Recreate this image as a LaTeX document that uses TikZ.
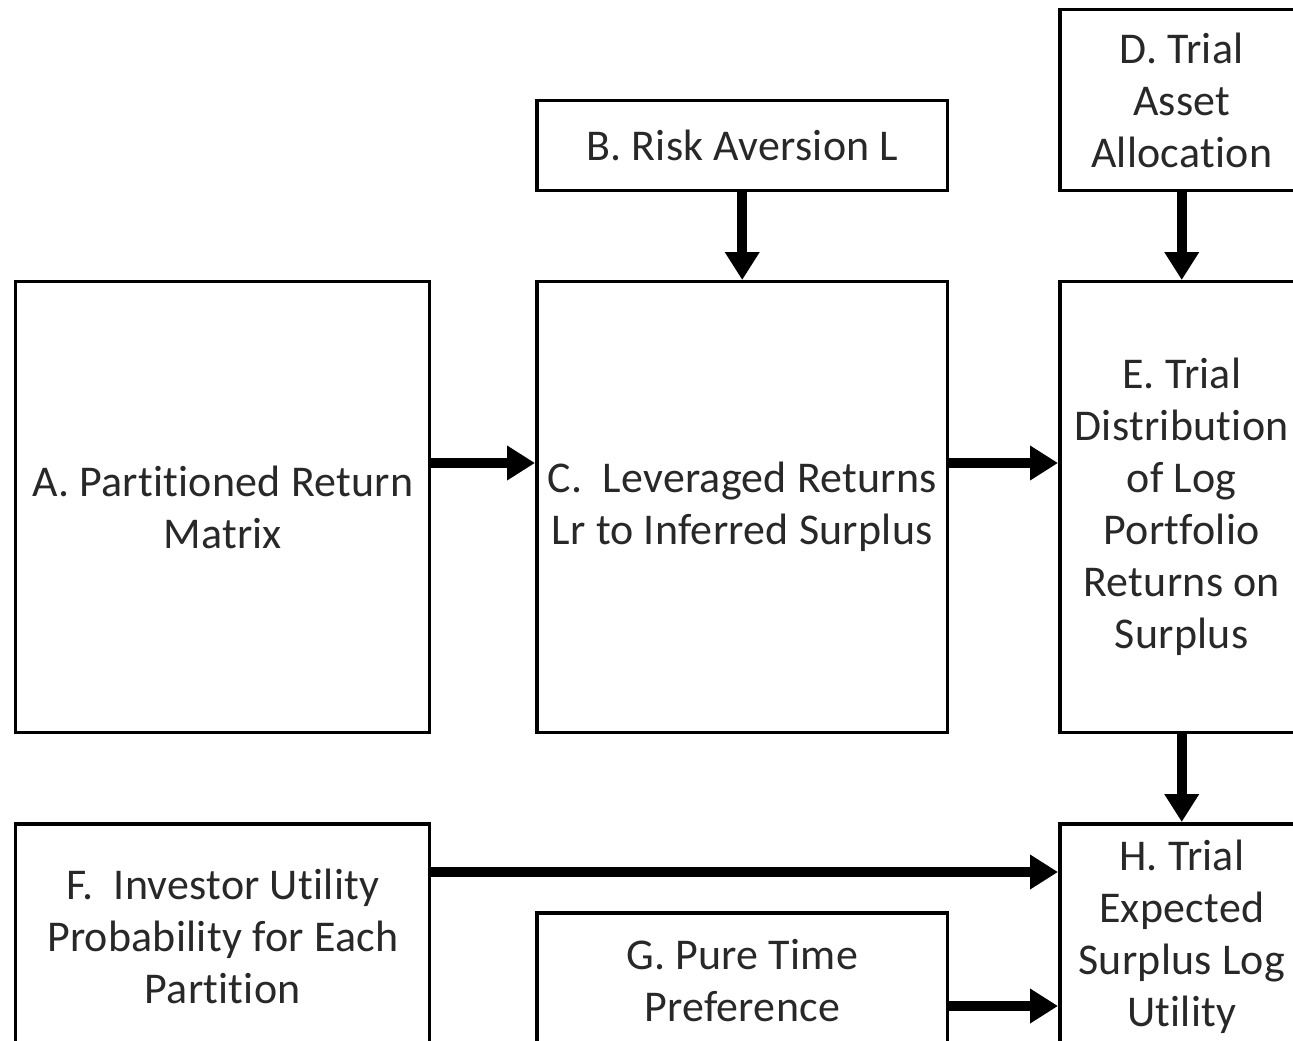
\documentclass[tikz,border=0pt]{standalone}
\usepackage{fontspec}
\setmainfont{Carlito}[Ligatures=NoCommon,LetterSpace=0.6]
\usetikzlibrary{arrows.meta}
\definecolor{txt}{RGB}{40,40,40}
\begin{document}
\begin{tikzpicture}[x=0.02cm,y=-0.02cm,
  box/.style={draw=black,line width=0.07cm,anchor=north west,inner sep=0pt,
    align=center,text=txt,font=\fontsize{25}{29.6}\selectfont},
  arr/.style={line width=0.2cm,-{Triangle[length=0.56cm,width=0.66cm]}}]
\fill[white] (0,0) rectangle (1293,1040);
\useasboundingbox (0,0) rectangle (1293,1040);
\clip (0,0) rectangle (1293,1040);
\node[box,minimum width=8.28cm,minimum height=9.02cm] (A) at (14,280) {A. Partitioned Return\\Matrix};
\node[box,minimum width=8.22cm,minimum height=1.8cm] (B) at (535,99) {B. Risk Aversion L};
\node[box,minimum width=8.22cm,minimum height=9.02cm] (C) at (535,280) {C.\ \ Leveraged Returns\\Lr to Inferred Surplus};
\node[box,minimum width=4.88cm,minimum height=3.62cm] (D) at (1058,8) {D. Trial\\Asset\\Allocation};
\node[box,minimum width=4.88cm,minimum height=9.02cm] (E) at (1058,280) {E. Trial\\Distribution\\of Log\\Portfolio\\Returns on\\Surplus};
\node[box,minimum width=8.28cm,minimum height=4.52cm] (F) at (14,822) {F.\ \ Investor Utility\\Probability for Each\\Partition};
\node[box,minimum width=8.22cm,minimum height=2.72cm] (G) at (535,911) {G. Pure Time\\Preference};
\node[box,minimum width=4.88cm,minimum height=4.52cm] (H) at (1058,822) {H. Trial\\Expected\\Surplus Log\\Utility};
\coordinate (r1) at (0,463);
\coordinate (r2) at (0,872);
\coordinate (r3) at (0,1006);
\draw[arr] (A.east |- r1) -- (C.west |- r1);
\draw[arr] (C.east |- r1) -- (E.west |- r1);
\draw[arr] (B.south) -- (C.north);
\draw[arr] (D.south) -- (E.north);
\draw[arr] (E.south) -- (H.north);
\draw[arr] (F.east |- r2) -- (H.west |- r2);
\draw[arr] (G.east |- r3) -- (H.west |- r3);
\end{tikzpicture}
\end{document}
